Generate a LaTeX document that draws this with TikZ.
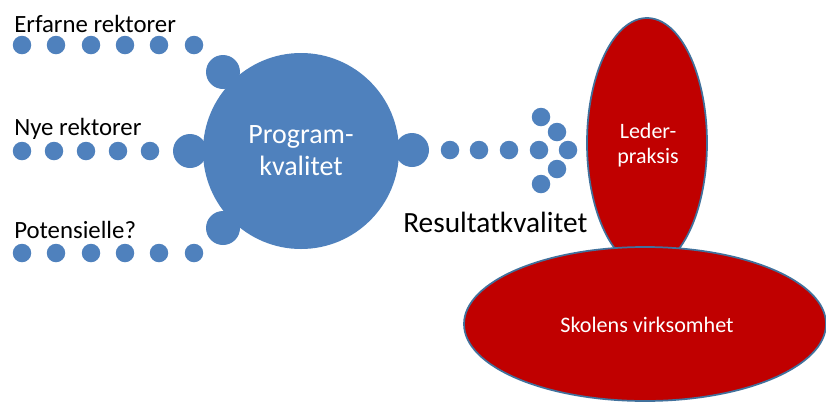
\documentclass[tikz,border=0pt]{standalone}
\usepackage{fontspec}
\setmainfont{Carlito}
\usetikzlibrary{shapes.geometric}
\definecolor{dotblue}{HTML}{4F81BD}
\definecolor{redfill}{HTML}{C00000}
\definecolor{edgeblue}{HTML}{41719C}
\tikzset{
  dot/.style={circle, fill=dotblue, inner sep=0pt, minimum size=18.5*0.75pt},
  knob/.style={circle, fill=dotblue, inner sep=0pt, minimum size=34*0.75pt},
  hub/.style={circle, fill=dotblue, inner sep=0pt, minimum size=196*0.75pt},
  label/.style={anchor=base west, inner sep=0pt, font=\fontsize{18.6}{22}\selectfont},
  redell/.style={ellipse, fill=redfill, draw=edgeblue, line width=1.3pt, inner sep=0pt},
  white/.style={text=white, align=center, inner sep=0pt}
}
\begin{document}
\begin{tikzpicture}[x=0.75pt,y=-0.75pt]
\useasboundingbox (0,0) rectangle (826,401);
% left labels
\node[label] (l1) at (14,32) {Erfarne rektorer};
\node[label] (l2) at (14,135) {Nye rektorer};
\node[label] (l3) at (14,238) {Potensielle?};
% dot rows
\foreach \x [count=\i] in {22,56,91,125,159,194} \node[dot] (a\i) at (\x,45) {};
\foreach \x [count=\i] in {22,54,86,118,150} \node[dot] (b\i) at (\x,151) {};
\foreach \x [count=\i] in {22,56,91,125,159,194} \node[dot] (c\i) at (\x,253) {};
% knobs
\node[knob] (k1) at (223,72) {};
\node[knob] (k2) at (190,151) {};
\node[knob] (k3) at (223,228) {};
\node[knob] (k4) at (412,150) {};
% hub
\node[hub] (hub) at (301,151) {};
\node[white, font=\fontsize{21}{24}\selectfont] (hubtxt) at (301,151) {Program-\\kvalitet};
% arrow dots
\foreach \x [count=\i] in {450,479,509,539} \node[dot] (d\i) at (\x,150) {};
\node[dot] (e1) at (568,150) {};
\node[dot] (e2) at (557,132) {};
\node[dot] (e3) at (541,117) {};
\node[dot] (e4) at (557,169) {};
\node[dot] (e5) at (541,184) {};
% result label
\node[label, font=\fontsize{22}{25}\selectfont] (res) at (403,232) {Resultatkvalitet};
% red ellipses
\node[redell, minimum width=120*0.75pt, minimum height=250*0.75pt] (leder) at (647,143) {};
\node[white, font=\fontsize{16.5}{19}\selectfont] (ledertxt) at (648,145) {Leder-\\praksis};
\node[redell, minimum width=362*0.75pt, minimum height=154*0.75pt] (skole) at (645,324) {};
\node[white, font=\fontsize{16.6}{19}\selectfont] (skoletxt) at (647,325) {Skolens virksomhet};
\end{tikzpicture}
\end{document}
